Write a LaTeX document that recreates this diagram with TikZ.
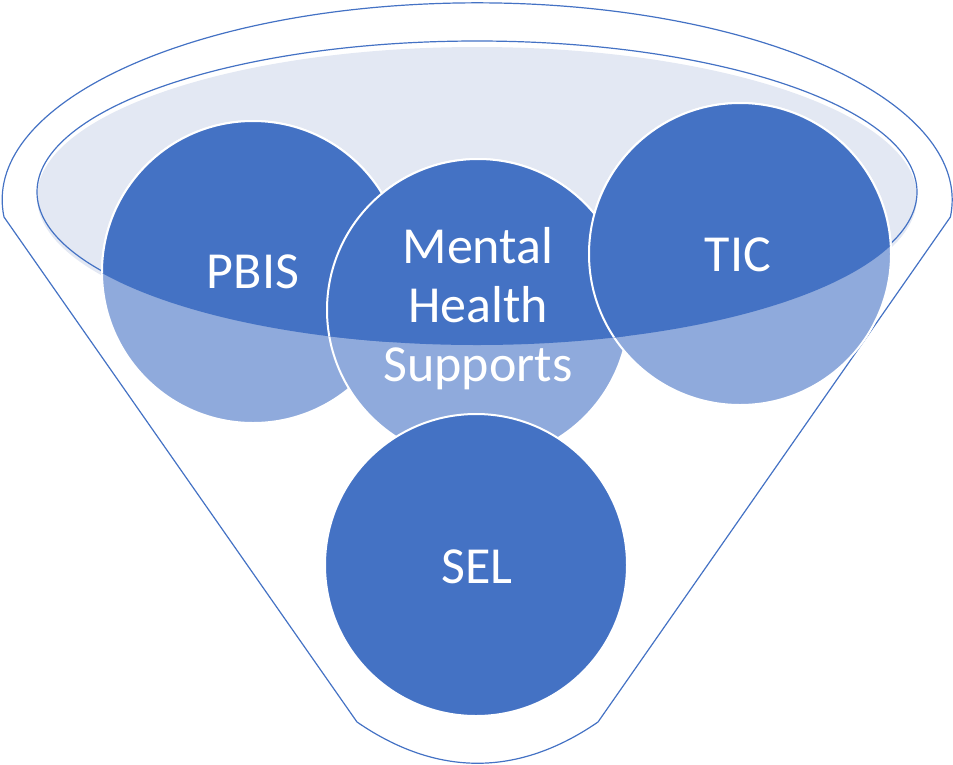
\documentclass[tikz,border=0pt]{standalone}
\usepackage{fontspec}
\setmainfont{Carlito}
\usetikzlibrary{positioning}
\definecolor{funnelblue}{HTML}{4472C4}
\definecolor{funnellight}{HTML}{8FAADC}
\definecolor{rimfill}{HTML}{E3E8F3}

\begin{document}
\begin{tikzpicture}[x=1pt,y=-1pt,
    outline/.style={draw=funnelblue,line width=1.2pt},
    ball/.style={circle,draw=white,line width=2pt,fill=funnellight,minimum size=302pt,inner sep=0pt},
    darkball/.style={draw=white,line width=2pt,fill=funnelblue},
    lbl/.style={text=white,font=\fontsize{52}{59}\selectfont,align=center}]
    \useasboundingbox (0,0) rectangle (953,764);

    % Funnel body
    \draw[outline] (4,217) arc[start angle=175,end angle=365,x radius=475,y radius=197]
        -- (598,722) .. controls (518,777) and (437,777) .. (357,722) -- cycle;

    % Rim
    \fill[rimfill] (477,197) ellipse[x radius=440,y radius=150];
    \draw[outline] (477,192) ellipse[x radius=440,y radius=151];

    % Circles in the funnel
    \node[ball] (pbis) at (253,272) {};
    \node[ball] (mhs) at (478,310) {};
    \node[ball] (tic) at (740,254) {};

    % Parts seen through the rim
    \begin{scope}
      \clip (477,194) ellipse[x radius=440,y radius=151];
      \draw[darkball] (pbis.center) circle[radius=151];
      \draw[darkball] (mhs.center) circle[radius=151];
      \draw[darkball] (tic.center) circle[radius=151];
    \end{scope}

    \node[ball,fill=funnelblue] (sel) at (476,565) {};

    % Labels
    \node[lbl,anchor=base] (pbistext) at (253,288) {PBIS};
    \node[lbl] (mhstext) at (478,309) {Mental\\Health\\Supports};
    \node[lbl,anchor=base] (tictext) at (738,271) {TIC};
    \node[lbl,anchor=base] (seltext) at (477,583) {SEL};
\end{tikzpicture}
\end{document}
